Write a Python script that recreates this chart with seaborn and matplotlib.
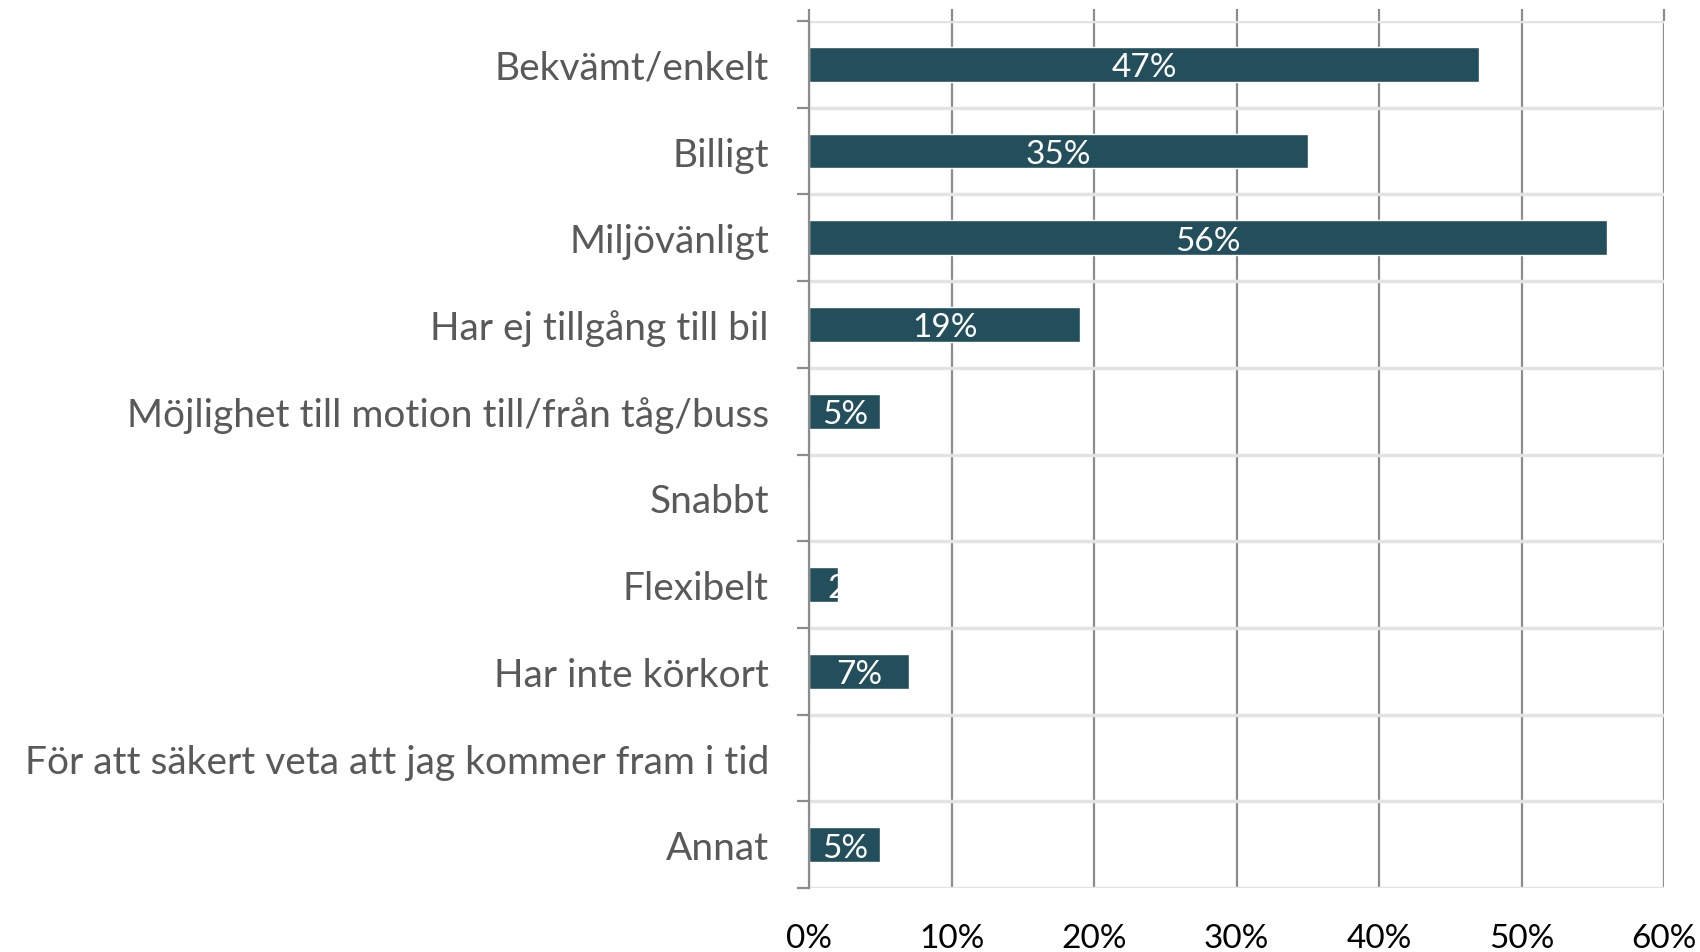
import numpy as np
import pandas as pd
import seaborn as sns
import matplotlib.pyplot as plt
from matplotlib.ticker import FixedLocator, PercentFormatter

sns.set_theme(style='white')
plt.rcParams['font.family'] = ['Lato', 'DejaVu Sans']

# data
kategorier = ['Bekvämt/enkelt', 'Billigt', 'Miljövänligt', 'Har ej tillgång till bil',
              'Möjlighet till motion till/från tåg/buss', 'Snabbt', 'Flexibelt',
              'Har inte körkort', 'För att säkert veta att jag kommer fram i tid', 'Annat']
andel = [47, 35, 56, 19, 5, 0, 2, 7, 0, 5]
xticks = [0, 10, 20, 30, 40, 50, 60]

df = pd.DataFrame({'kategori': kategorier, 'andel': andel})

fig = plt.figure(figsize=(17, 9.53), dpi=100)
ax = fig.add_axes([0.476, 0.067, 0.503, 0.910])

sns.barplot(data=df, y='kategori', x='andel', orient='h', color='#234E5B',
            saturation=1, width=0.4, ax=ax, zorder=3)

# etiketter i staplarna (små staplar: etiketten hålls innanför axeln, som i Excel)
for i, v in enumerate(andel):
    if v == 0:
        continue
    if v < 4:
        ax.text(1.25, i, f'{v}%', ha='left', va='center_baseline', color='white',
                fontsize=24, zorder=4)
    else:
        ax.text(v / 2, i, f'{v}%', ha='center', va='center_baseline', color='white',
                fontsize=24, zorder=4)

ax.set_xlim(0, 60)
ax.set_ylim(len(kategorier) - 0.5, -0.5)
ax.xaxis.set_major_locator(FixedLocator(xticks))
ax.xaxis.set_major_formatter(PercentFormatter(decimals=0))
ax.tick_params(axis='x', bottom=False, top=True, labelbottom=True, labeltop=False,
               length=9, width=1.6, color='#8C8C8C', labelsize=24, labelcolor='black', pad=16)
ax.grid(axis='x', color='#8C8C8C', linewidth=1.6, zorder=1)

ax.set_yticks(np.arange(len(kategorier)))
ax.set_yticks(np.arange(-0.5, len(kategorier), 1), minor=True)
ax.tick_params(axis='y', which='major', length=0, labelsize=28, labelcolor='#595959', pad=29)
ax.tick_params(axis='y', which='minor', left=True, length=9, width=1.6, color='#8C8C8C')
ax.grid(axis='y', which='minor', color='#E3E3E3', linewidth=2.5, zorder=1)
ax.grid(axis='y', which='major', visible=False)

for s in ['top', 'right', 'bottom']:
    ax.spines[s].set_visible(False)
ax.spines['left'].set_color('#8C8C8C')
ax.spines['left'].set_linewidth(1.6)
ax.spines['left'].set_zorder(5)

ax.set_xlabel('')
ax.set_ylabel('')

fig.savefig('out.png', dpi=100)
